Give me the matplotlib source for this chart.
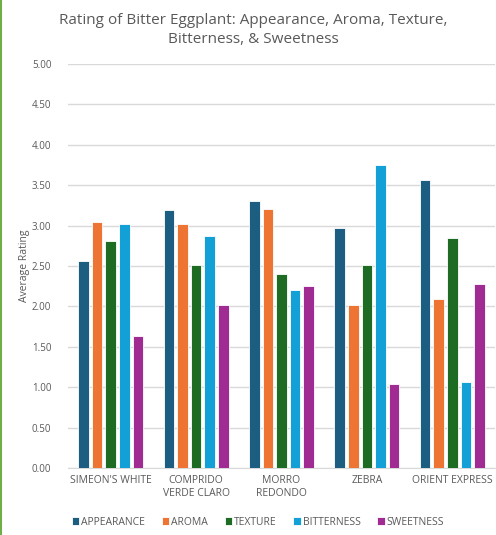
import matplotlib.pyplot as plt
import numpy as np
from matplotlib.lines import Line2D

plt.rcParams['font.family'] = ['Open Sans', 'DejaVu Sans']

varieties = ["SIMEON'S WHITE", "COMPRIDO\nVERDE CLARO", "MORRO\nREDONDO", "ZEBRA", "ORIENT EXPRESS"]
traits = ["APPEARANCE", "AROMA", "TEXTURE", "BITTERNESS", "SWEETNESS"]

appearance = [2.56, 3.19, 3.31, 2.97, 3.56]
aroma = [3.04, 3.02, 3.21, 2.02, 2.09]
texture = [2.81, 2.51, 2.40, 2.51, 2.85]
bitterness = [3.02, 2.87, 2.20, 3.75, 1.06]
sweetness = [1.63, 2.02, 2.25, 1.04, 2.28]

colors = ["#1B5E82", "#ED7433", "#1E6B24", "#12A0D7", "#A02B93"]
yticks = [0.0, 0.5, 1.0, 1.5, 2.0, 2.5, 3.0, 3.5, 4.0, 4.5, 5.0]

fig = plt.figure(figsize=(4.96, 5.35), dpi=100)
ax = fig.add_axes([68 / 496, 1 - 468 / 535, 427 / 496, 404 / 535])

x = np.arange(len(varieties))
step = 0.159
width = 0.125
series = [appearance, aroma, texture, bitterness, sweetness]
for i, (name, vals) in enumerate(zip(traits, series)):
    ax.bar(x + (i - 2) * step, vals, width, color=colors[i], label=name,
           edgecolor="white", linewidth=0.6, zorder=3)

ax.set_xlim(-0.5, len(varieties) - 0.5)
ax.set_ylim(0, 5)
ax.set_yticks(yticks)
ax.set_yticklabels([f"{t:.2f}" for t in yticks])
ax.set_xticks(x)
ax.set_xticklabels(varieties, fontsize=7.5, color="#595959", linespacing=1.3)
ax.tick_params(axis="y", labelsize=7, colors="#595959", length=0, pad=12)
ax.tick_params(axis="x", length=0, pad=5)
ax.grid(axis="y", color="#D9D9D9", linewidth=1, zorder=0)
for s in ["top", "right", "left"]:
    ax.spines[s].set_visible(False)
ax.spines["bottom"].set_color("#D9D9D9")

ax.set_ylabel("Average Rating", fontsize=7.5, color="#595959", labelpad=1)

fig.text(0.51, 0.975, "Rating of Bitter Eggplant: Appearance, Aroma, Texture,\nBitterness, & Sweetness",
         ha="center", va="top", fontsize=11, color="#595959", linespacing=1.3)

ax.legend(loc="upper center", bbox_to_anchor=(0.445, -0.097), ncol=5, frameon=False,
          fontsize=7.5, labelcolor="#595959", handlelength=0.7, handleheight=0.7,
          handletextpad=0.2, columnspacing=1.6)

fig.add_artist(Line2D([0.002, 0.002], [0, 1], color="#70AD47", linewidth=1.5))

fig.savefig("out.png", dpi=100)
